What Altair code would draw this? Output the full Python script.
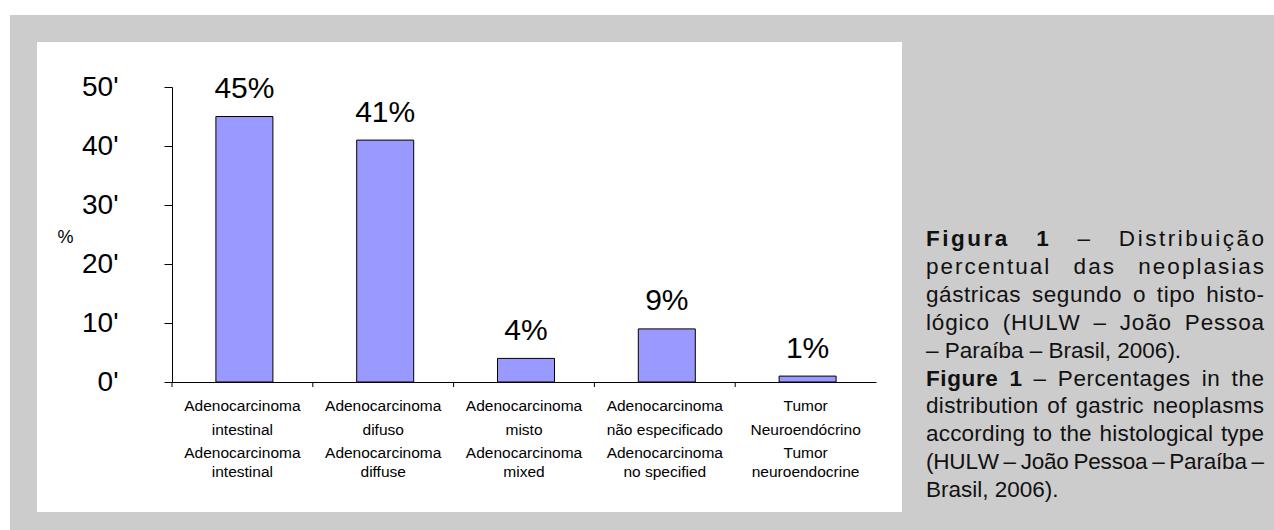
import altair as alt
import pandas as pd

# ---------------- data ----------------
categories = ["ai", "ad", "am", "ane", "tn"]
values = [45, 41, 4, 9, 1]
value_labels = ["45%", "41%", "4%", "9%", "1%"]
labels_pt = [
    "Adenocarcinoma\nintestinal",
    "Adenocarcinoma\ndifuso",
    "Adenocarcinoma\nmisto",
    "Adenocarcinoma\nnão especificado",
    "Tumor\nNeuroendócrino",
]
labels_en = [
    "Adenocarcinoma\nintestinal",
    "Adenocarcinoma\ndiffuse",
    "Adenocarcinoma\nmixed",
    "Adenocarcinoma\nno specified",
    "Tumor\nneuroendocrine",
]
y_ticks = [0, 10, 20, 30, 40, 50]

# caption lines: (bold prefix, regular text, justified)
caption_lines = [
    ("Figura 1", " – Distribuição", True),
    ("", "percentual das neoplasias", True),
    ("", "gástricas segundo o tipo histo-", True),
    ("", "lógico (HULW – João Pessoa", True),
    ("", "– Paraíba – Brasil, 2006).", False),
    ("Figure 1", " – Percentages in the", True),
    ("", "distribution of gastric neoplasms", True),
    ("", "according to the histological type", True),
    ("", "(HULW – João Pessoa – Paraíba –", True),
    ("", "Brasil, 2006).", False),
]

# ---------------- layout constants ----------------
PAD_L, PAD_T = 172, 87
W, H = 704, 295
FONT = "Liberation Sans"

# Arial / Liberation Sans advance widths (1/1000 em)
REG = {' ': 278, '(': 333, ')': 333, ',': 278, '-': 333, '.': 278, '–': 556,
       'A': 667, 'B': 667, 'C': 722, 'D': 722, 'E': 667, 'F': 611, 'G': 778, 'H': 722,
       'I': 278, 'J': 500, 'K': 667, 'L': 556, 'M': 833, 'N': 722, 'O': 778, 'P': 667,
       'Q': 778, 'R': 722, 'S': 667, 'T': 611, 'U': 722, 'V': 667, 'W': 944, 'X': 667,
       'Y': 667, 'Z': 611,
       'a': 556, 'b': 556, 'c': 500, 'd': 556, 'e': 556, 'f': 278, 'g': 556, 'h': 556,
       'i': 222, 'j': 222, 'k': 500, 'l': 222, 'm': 833, 'n': 556, 'o': 556, 'p': 556,
       'q': 556, 'r': 333, 's': 500, 't': 278, 'u': 556, 'v': 500, 'w': 722, 'x': 500,
       'y': 500, 'z': 500, 'ç': 500, 'ã': 556, 'á': 556, 'í': 278, 'ó': 556}
for d in "0123456789":
    REG[d] = 556
BOLD = {' ': 278, 'F': 611, 'i': 278, 'g': 611, 'u': 611, 'r': 389, 'a': 556,
        'e': 556, '1': 556}

CAP_SIZE = 22.5
CAP_LEFT, CAP_RIGHT = 926, 1264
CAP_BASE, CAP_STEP = 246, 27.9
SPACE_WEIGHT = 8.0


def cw(c, bold):
    t = BOLD if bold else REG
    return t.get(c, 556) * CAP_SIZE / 1000.0


cap_rows = []
for i, (btxt, rtxt, justify) in enumerate(caption_lines):
    chars = [(c, True) for c in btxt] + [(c, False) for c in rtxt]
    widths = [cw(c, b) for c, b in chars]
    natural = sum(widths)
    weights = [SPACE_WEIGHT if c == ' ' else 1.0 for c, _ in chars[:-1]]
    if justify:
        unit = (CAP_RIGHT - CAP_LEFT - natural) / sum(weights)
    else:
        unit = 0.0
    x = CAP_LEFT
    for k, ((c, b), wd) in enumerate(zip(chars, widths)):
        if c != ' ':
            cap_rows.append({"ch": c, "bold": b, "px": x - PAD_L,
                             "py": CAP_BASE + CAP_STEP * i - PAD_T})
        x += wd + (unit * weights[k] if k < len(weights) else 0)

cap_df = pd.DataFrame(cap_rows)

df = pd.DataFrame({
    "cat": categories,
    "value": values,
    "lab": value_labels,
    "pt": labels_pt,
    "en": labels_en,
})

one = alt.Data(values=[{}])

x_enc = alt.X("cat:N", sort=categories,
              scale=alt.Scale(paddingInner=0, paddingOuter=0),
              axis=alt.Axis(labels=False, ticks=False, title=None,
                            domainColor="black", domainWidth=1, zindex=1))

# background frame
gray = alt.Chart(one).mark_rect(fill="#cccccc").encode(
    x=alt.value(10 - PAD_L), x2=alt.value(1274 - PAD_L),
    y=alt.value(15 - PAD_T), y2=alt.value(530 - PAD_T))
white = alt.Chart(one).mark_rect(fill="white").encode(
    x=alt.value(37 - PAD_L), x2=alt.value(902 - PAD_L),
    y=alt.value(42 - PAD_T), y2=alt.value(512 - PAD_T))

bars = alt.Chart(df).mark_bar(size=57, fill="#9999ff", stroke="black",
                              strokeWidth=1, xOffset=2).encode(
    x=x_enc,
    y=alt.Y("value:Q", scale=alt.Scale(domain=[0, 50], nice=False),
            axis=alt.Axis(values=y_ticks, labelFontSize=28, labelFont=FONT,
                          labelColor="black", labelPadding=46, tickSize=8,
                          tickColor="black", domainColor="black", grid=False,
                          labelExpr="datum.label + \"'\"",
                          title="%", titleAngle=0, titleFontSize=18,
                          titleFont=FONT, titleFontWeight="normal",
                          titleColor="black", titleX=65 - PAD_L,
                          titleY=237 - PAD_T, titleAlign="center",
                          titleBaseline="middle", zindex=1)),
)

ticks = alt.Chart(df).mark_rule(color="black", strokeWidth=1).encode(
    x=alt.X("cat:N", sort=categories, bandPosition=0),
    y=alt.value(H), y2=alt.value(H + 5))

vlabels = alt.Chart(df).mark_text(font=FONT, fontSize=30, color="black",
                                  baseline="alphabetic", dy=-18.5,
                                  xOffset=2).encode(
    x=alt.X("cat:N", sort=categories), y="value:Q", text="lab:N")

pt_labels = alt.Chart(df).mark_text(font=FONT, fontSize=15.5, color="black",
                                    baseline="alphabetic", lineBreak="\n",
                                    lineHeight=24).encode(
    x=alt.X("cat:N", sort=categories), y=alt.value(411 - PAD_T), text="pt:N")

en_labels = alt.Chart(df).mark_text(font=FONT, fontSize=15.5, color="black",
                                    baseline="alphabetic", lineBreak="\n",
                                    lineHeight=19).encode(
    x=alt.X("cat:N", sort=categories), y=alt.value(458 - PAD_T), text="en:N")

cap_reg = alt.Chart(cap_df[~cap_df["bold"]]).mark_text(
    font=FONT, fontSize=CAP_SIZE, color="#111111", align="left",
    baseline="alphabetic").encode(
    x=alt.X("px:Q", scale=None, axis=None),
    y=alt.Y("py:Q", scale=None, axis=None),
    text="ch:N")

cap_bold = alt.Chart(cap_df[cap_df["bold"]]).mark_text(
    font=FONT, fontSize=CAP_SIZE, color="#111111", align="left",
    fontWeight="bold", baseline="alphabetic").encode(
    x=alt.X("px:Q", scale=None, axis=None),
    y=alt.Y("py:Q", scale=None, axis=None),
    text="ch:N")

chart = alt.layer(gray, white, bars, ticks, vlabels, pt_labels, en_labels,
                  cap_reg, cap_bold).properties(
    width=W, height=H,
    padding={"left": PAD_L, "top": PAD_T, "right": 1274 - PAD_L - W,
             "bottom": 530 - PAD_T - H},
    autosize=alt.AutoSizeParams(type="none"),
    background="white",
).configure_view(stroke=None)

chart.save("out.html", embed_options={"renderer": "svg", "actions": False})
